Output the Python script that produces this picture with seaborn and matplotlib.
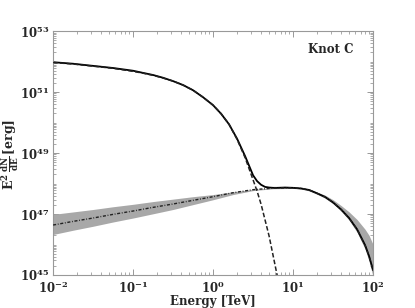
import numpy as np
import pandas as pd
import matplotlib
matplotlib.use('Agg')
import matplotlib.pyplot as plt
import matplotlib.ticker as mticker
import seaborn as sns

# energies (TeV) and log10 of E^2 dN/dE [erg]
energy = [0.01, 0.0178, 0.0316, 0.0562, 0.1, 0.133, 0.178, 0.237, 0.316,
          0.422, 0.562, 0.750, 1.0, 1.259, 1.585, 1.995, 2.512, 3.162,
          3.548, 3.981, 4.467, 5.012, 5.623, 6.310, 7.943, 10.0, 12.59,
          15.85, 19.95, 25.12, 31.62, 39.81, 50.12, 63.10, 79.43, 89.13,
          100.0]

# total emission (solid)
log_total = [51.98, 51.93, 51.86, 51.79, 51.70, 51.63, 51.56, 51.47, 51.36,
             51.23, 51.06, 50.83, 50.57, 50.29, 49.94, 49.47, 48.90, 48.27,
             48.08, 47.96, 47.89, 47.87, 47.86, 47.86, 47.87, 47.86, 47.84,
             47.79, 47.68, 47.56, 47.38, 47.15, 46.87, 46.50, 45.98, 45.62,
             45.16]

# steep component (dashed)
energy_steep = [0.01, 0.0178, 0.0316, 0.0562, 0.1, 0.133, 0.178, 0.237,
                0.316, 0.422, 0.562, 0.750, 1.0, 1.259, 1.585, 1.995, 2.512,
                3.162, 3.548, 3.981, 5.012, 6.310, 6.607]
log_steep = [51.97, 51.92, 51.85, 51.78, 51.68, 51.62, 51.55, 51.46,
             51.36, 51.23, 51.06, 50.83, 50.57, 50.29, 49.94, 49.45, 48.85,
             48.12, 47.75, 47.32, 46.28, 45.0, 44.7]

# flat component (dash-dot) with its uncertainty band
energy_flat = [0.01, 0.0178, 0.0316, 0.0562, 0.1, 0.178, 0.316, 0.562, 1.0,
               1.778, 3.162, 5.623, 10.0, 12.59, 15.85, 19.95, 25.12, 31.62,
               39.81, 50.12, 63.10, 79.43, 89.13, 100.0]
log_flat = [46.64, 46.76, 46.87, 46.99, 47.10, 47.22, 47.33, 47.45, 47.57,
            47.70, 47.80, 47.85, 47.86, 47.84, 47.79, 47.68, 47.56, 47.38,
            47.15, 46.87, 46.50, 45.98, 45.62, 45.16]
log_flat_hi = [46.99, 47.07, 47.15, 47.24, 47.32, 47.41, 47.49, 47.57, 47.64,
               47.73, 47.81, 47.86, 47.88, 47.87, 47.82, 47.72, 47.62, 47.47,
               47.28, 47.07, 46.82, 46.50, 46.30, 46.00]
log_flat_lo = [46.33, 46.47, 46.60, 46.74, 46.87, 47.01, 47.15, 47.31, 47.47,
               47.64, 47.77, 47.83, 47.84, 47.82, 47.76, 47.65, 47.52, 47.34,
               47.10, 46.80, 46.40, 45.85, 45.45, 44.95]

sns.set_style('ticks')
plt.rcParams['mathtext.fontset'] = 'dejavuserif'
plt.rcParams['font.family'] = ['DejaVu Serif']

df_total = pd.DataFrame({'E': energy, 'flux': 10.0 ** np.array(log_total)})
df_steep = pd.DataFrame({'E': energy_steep, 'flux': 10.0 ** np.array(log_steep)})
df_flat = pd.DataFrame({'E': energy_flat, 'flux': 10.0 ** np.array(log_flat),
                        'hi': 10.0 ** np.array(log_flat_hi),
                        'lo': 10.0 ** np.array(log_flat_lo)})

fig = plt.figure(figsize=(4.15, 3.08), dpi=100)
ax = fig.add_axes([0.128, 0.107, 0.771, 0.792])
ax.set_xscale('log')
ax.set_yscale('log')

ax.fill_between(df_flat['E'], df_flat['lo'], df_flat['hi'],
                color='#a8a8a8', lw=0, zorder=1)
sns.lineplot(data=df_flat, x='E', y='flux', ax=ax, color='#222222',
             linestyle=(0, (2.2, 1.2, 0.6, 1.2)), lw=1.0, zorder=3)
sns.lineplot(data=df_total, x='E', y='flux', ax=ax, color='black',
             lw=1.3, zorder=2)
sns.lineplot(data=df_steep, x='E', y='flux', ax=ax, color='#222222',
             linestyle=(0, (3, 1.5)), lw=1.1, zorder=4)

ax.set_xlim(1e-2, 1e2)
ax.set_ylim(1e45, 1e53)
ax.set_xlabel('')
ax.set_ylabel('')

# ticks
fmt = mticker.FuncFormatter(lambda v, p: r'$\mathbf{10^{%d}}$' % round(np.log10(v)))
ax.xaxis.set_major_locator(mticker.FixedLocator([1e-2, 1e-1, 1e0, 1e1, 1e2]))
ax.xaxis.set_minor_locator(mticker.LogLocator(base=10, subs=np.arange(2, 10), numticks=20))
ax.xaxis.set_major_formatter(fmt)
ax.xaxis.set_minor_formatter(mticker.NullFormatter())

ax.yaxis.set_major_locator(mticker.FixedLocator([1e45, 1e47, 1e49, 1e51, 1e53]))
ax.yaxis.set_minor_locator(mticker.LogLocator(base=10, subs=np.arange(1, 10), numticks=20))
ax.yaxis.set_major_formatter(fmt)
ax.yaxis.set_minor_formatter(mticker.NullFormatter())

ax.tick_params(which='both', direction='in', top=True, right=True,
               color='#888888', labelsize=8.5)
ax.tick_params(axis='x', pad=3.5)
ax.tick_params(axis='y', pad=3)
ax.tick_params(which='major', length=4, width=0.6)
ax.tick_params(which='minor', length=2, width=0.5)
for s in ax.spines.values():
    s.set_color('#999999')
    s.set_linewidth(0.8)

fig.text(0.513, 0.0, 'Energy [TeV]', ha='center', va='bottom',
         fontsize=8.5, fontweight='bold')
fig.text(0.025, 0.50, r'$\mathbf{E^2\,\frac{dN}{dE}\,[erg]}$',
         rotation=90, ha='center', va='center', fontsize=9)
ax.text(0.9375, 0.926, 'Knot C', transform=ax.transAxes,
        ha='right', va='center', fontsize=8.5, fontweight='bold')

fig.savefig('out.png', dpi=100)
